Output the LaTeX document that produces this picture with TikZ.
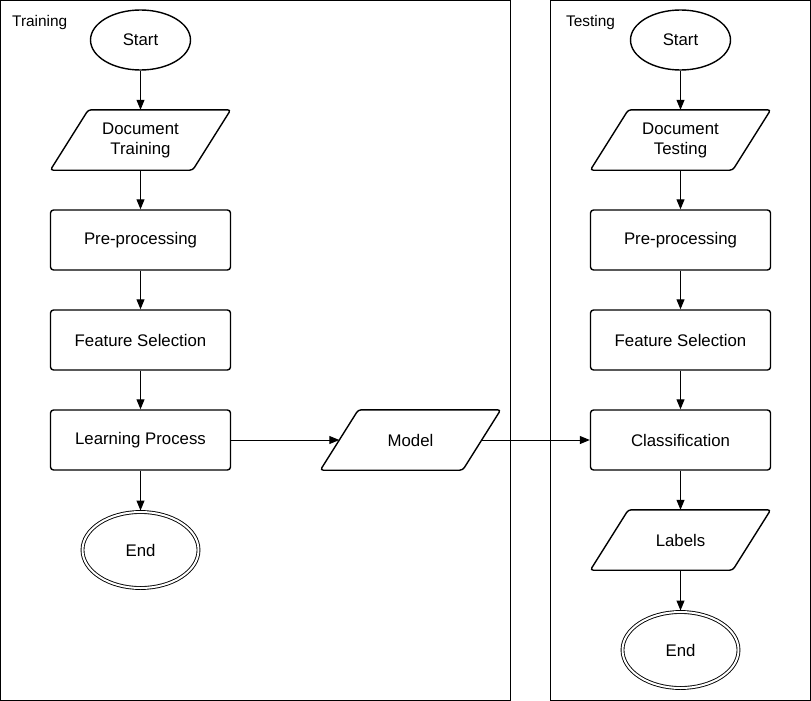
\documentclass[tikz,border=0pt]{standalone}
\usepackage{fontspec}
\setmainfont{Liberation Sans}
\usetikzlibrary{shapes.geometric,arrows.meta,calc}
\newcommand{\twolines}[2]{\raisebox{-2.5pt}{\begin{tabular}{@{}c@{}}#1\\#2\end{tabular}}}
\begin{document}
\begin{tikzpicture}[x=1pt,y=-1pt,
  every node/.style={font=\fontsize{16.8}{20}\selectfont},
  frame/.style={draw, line width=1pt},
  framelabel/.style={anchor=base west, inner sep=0pt, font=\fontsize{15.4}{18}\selectfont},
  proc/.style={draw, line width=1.4pt, rounded corners=3pt, minimum width=180pt, minimum height=60pt, inner sep=0pt},
  term/.style={draw, ellipse, line width=1.4pt, minimum width=100pt, minimum height=60pt, inner sep=0pt},
  endterm/.style={draw, ellipse, line width=0.9pt, double, double distance=2pt, minimum width=116pt, minimum height=76pt, inner sep=0pt, outer sep=1.5pt},
  iobox/.style={minimum width=180pt, minimum height=60pt, inner sep=0pt},
  para/.style={draw, line width=1.4pt, rounded corners=3pt},
  conn/.style={line width=1pt, -{Triangle[length=10pt,width=8pt]}}
]
\useasboundingbox (0,0) rectangle (811,701);
% frames
\draw[frame] (0.5,0.5) rectangle (510.5,700.5);
\draw[frame] (550.5,0.5) rectangle (810.5,700.5);
\node[framelabel] (lt) at (12,26.5) {Training};
\node[framelabel] (lte) at (566,26.5) {Testing};

% Training column
\node[term] (s1) at (140.5,40) {Start};
\node[iobox] (d1) at (140.5,140) {\twolines{Document}{Training}};
\node[proc] (p1) at (140.5,240) {Pre-processing};
\node[proc] (f1) at (140.5,340) {Feature Selection};
\node[proc] (l1) at (140.5,440) {Learning Process};
\node[endterm] (e1) at (140.5,550) {End};

% Model
\node[iobox] (m) at (410.5,440) {Model};

% Testing column
\node[term] (s2) at (680.5,40) {Start};
\node[iobox] (d2) at (680.5,140) {\twolines{Document}{Testing}};
\node[proc] (p2) at (680.5,240) {Pre-processing};
\node[proc] (f2) at (680.5,340) {Feature Selection};
\node[proc] (c2) at (680.5,440) {Classification};
\node[iobox] (lb) at (680.5,540) {Labels};
\node[endterm] (e2) at (680.5,650) {End};

% parallelogram outlines
\foreach \n in {d1,m,d2,lb}{
  \draw[para] (\n.south west) -- ($(\n.north west)+(38,0)$) -- (\n.north east) -- ($(\n.south east)-(38,0)$) -- cycle;
}
\coordinate (mL) at ($(m.west)+(19,0)$);
\coordinate (mR) at ($(m.east)-(19,0)$);

% connectors
\draw[conn] (s1) -- (d1);
\draw[conn] (d1) -- (p1);
\draw[conn] (p1) -- (f1);
\draw[conn] (f1) -- (l1);
\draw[conn] (l1) -- (e1);
\draw[conn] (l1) -- (mL);
\draw[conn] (mR) -- (c2);
\draw[conn] (s2) -- (d2);
\draw[conn] (d2) -- (p2);
\draw[conn] (p2) -- (f2);
\draw[conn] (f2) -- (c2);
\draw[conn] (c2) -- (lb);
\draw[conn] (lb) -- (e2);
\end{tikzpicture}
\end{document}
